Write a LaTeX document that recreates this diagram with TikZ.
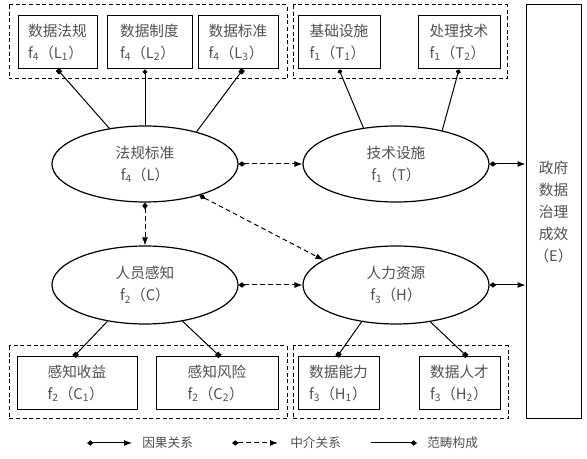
\documentclass[tikz,border=0pt]{standalone}
\usepackage{fontspec}
\usepackage{tikz}
\usetikzlibrary{shapes.geometric,arrows.meta}
\newfontfamily\cjk{Noto Sans CJK SC}
\definecolor{txtgray}{RGB}{80,80,80}

\tikzset{
  box/.style={draw, line width=0.75pt, minimum height=39.75pt, inner sep=0pt, align=left, text=txtgray, font=\cjk\fontsize{11}{16.5}\selectfont},
  oval/.style={draw, ellipse, line width=0.9pt, minimum width=139.5pt, inner sep=0pt, align=center, text=txtgray, font=\cjk\fontsize{11}{16.5}\selectfont},
  grp/.style={line width=0.75pt, dash pattern=on 3pt off 2pt},
  cause/.style={line width=0.75pt, {Diamond[length=5pt,width=4pt]}-{Latex[length=6pt,width=4.5pt]}},
  medi/.style={cause, dash pattern=on 3.5pt off 2.5pt},
  part/.style={line width=0.75pt, -{Square[length=3.5pt]}},
  partdot/.style={line width=0.75pt, -{Circle[length=3.5pt]}},
  leg/.style={anchor=west, inner sep=0pt, text=txtgray, font=\cjk\fontsize{9.5}{11}\selectfont},
}

\begin{document}
\begin{tikzpicture}[x=0.75pt,y=0.75pt,yscale=-1,xscale=1]
\useasboundingbox (0,0) rectangle (587,459);

% Dashed groups
\draw [grp] (9,5) rectangle (287,79);
\draw [grp] (293,5) rectangle (507,79);
\draw [grp] (9,346) rectangle (287,419);
\draw [grp] (293,346) rectangle (508,419);

% Item boxes
\node [box, minimum width=59.25pt] (L1) at (57.5,42.5) {数据法规\\f\textsubscript{4}（L\textsubscript{1}）};
\node [box, minimum width=63.75pt] (L2) at (149.5,42.5) {数据制度\\f\textsubscript{4}（L\textsubscript{2}）};
\node [box, minimum width=60pt] (L3) at (238,42.5) {数据标准\\f\textsubscript{4}（L\textsubscript{3}）};
\node [box, minimum width=61.5pt] (T1) at (339,42.5) {基础设施\\f\textsubscript{1}（T\textsubscript{1}）};
\node [box, minimum width=61.5pt] (T2) at (459,42.5) {处理技术\\f\textsubscript{1}（T\textsubscript{2}）};
\node [box, minimum width=90pt] (C1) at (77,383.5) {感知收益\\f\textsubscript{2}（C\textsubscript{1}）};
\node [box, minimum width=91.5pt] (C2) at (217,383.5) {感知风险\\f\textsubscript{2}（C\textsubscript{2}）};
\node [box, minimum width=60.75pt] (H1) at (338.5,383.5) {数据能力\\f\textsubscript{3}（H\textsubscript{1}）};
\node [box, minimum width=60.75pt] (H2) at (459.5,383.5) {数据人才\\f\textsubscript{3}（H\textsubscript{2}）};

% Result box
\node [box, align=center, minimum width=41.25pt, minimum height=310.5pt] (E) at (553.5,212) {政府\\数据\\治理\\成效\\（E）};

% Factor ellipses
\node [oval, minimum height=57pt] (L) at (145,164) {法规标准\\f\textsubscript{4}（L）};
\node [oval, minimum height=57pt] (T) at (396,164) {技术设施\\f\textsubscript{1}（T）};
\node [oval, minimum height=58.5pt] (C) at (145,285) {人员感知\\f\textsubscript{2}（C）};
\node [oval, minimum height=58.5pt] (H) at (396,285) {人力资源\\f\textsubscript{3}（H）};

% Category lines
\draw [part] (L.135) -- (L1.south);
\draw [partdot] (L.north) -- (L2.south -| L.north);
\draw [part] (L.32) -- ([xshift=3.75pt]L3.south);
\draw [partdot] (T.132) -- (T1.south);
\draw [partdot] (T.36) -- (T2.south);
\draw [part] (C.224) -- ([xshift=-2.25pt]C1.north);
\draw [part] (C.316) -- ([xshift=2.25pt]C2.north);
\draw [part] (H.227) -- ([xshift=-1pt]H1.north);
\draw [part] (H.313) -- ([xshift=5.6pt]H2.north);

% Effects
\draw [medi] (L.east) -- (T.west);
\draw [medi] (L.south) -- (C.north);
\draw [medi] (L.330) -- (H.161);
\draw [medi] (C.east) -- (H.west);
\draw [cause] (T.east) -- (T.east -| E.west);
\draw [cause] (H.east) -- (H.east -| E.west);

% Legend
\coordinate (a1) at (87,443);
\coordinate (b1) at (132,443);
\node [leg] (t1) at (142,443) {因果关系};
\coordinate (a2) at (232,443);
\coordinate (b2) at (278,443);
\node [leg] (t2) at (290,443) {中介关系};
\coordinate (a3) at (371,443);
\coordinate (b3) at (417,443);
\node [leg] (t3) at (427,443) {范畴构成};
\draw [cause] (a1) -- (b1);
\draw [medi] (a2) -- (b2);
\draw [line width=0.75pt, -{Diamond[length=5pt,width=4pt]}] (a3) -- (b3);

\end{tikzpicture}
\end{document}
